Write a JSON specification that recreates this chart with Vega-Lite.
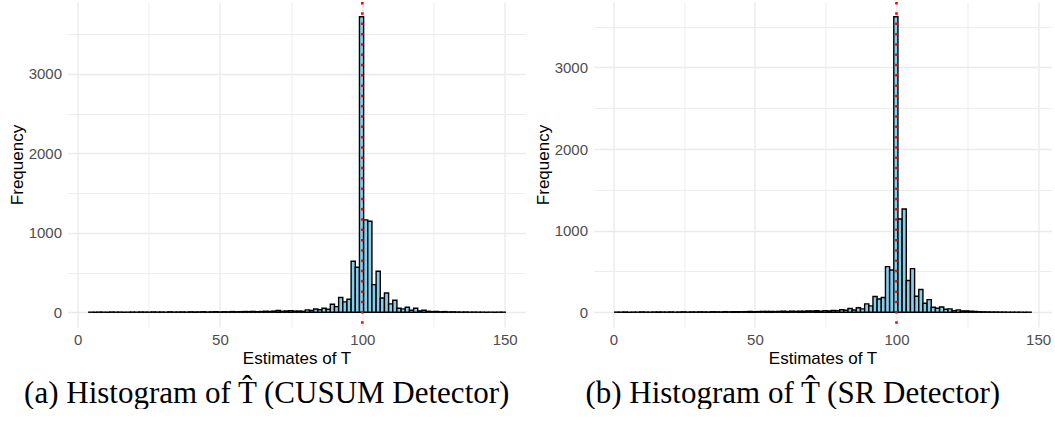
{
  "$schema": "https://vega.github.io/schema/vega-lite/v6.json",
  "background": "white",
  "padding": {"left": 7.5, "top": 0, "right": 0, "bottom": 0},
  "bounds": "flush",
  "spacing": 68,
  "config": {
    "view": {"stroke": null},
    "font": "Liberation Sans",
    "axis": {
      "grid": true,
      "gridColor": "#EBEBEB",
      "ticks": false,
      "tickSize": 0,
      "domain": false,
      "labelFontSize": 15,
      "labelColor": "#4D4D4D",
      "labelFlush": false,
      "labelOverlap": false,
      "titleFontSize": 17,
      "titleColor": "black",
      "titleFontWeight": "normal"
    }
  },
  "datasets": {
    "cusum": [
      {"t": 4.5, "n": 1}, {"t": 6.0, "n": 0}, {"t": 7.4, "n": 2}, {"t": 8.9, "n": 1}, {"t": 10.3, "n": 0},
      {"t": 11.8, "n": 3}, {"t": 13.3, "n": 1}, {"t": 14.7, "n": 2}, {"t": 16.2, "n": 0}, {"t": 17.7, "n": 1},
      {"t": 19.1, "n": 2}, {"t": 20.6, "n": 1}, {"t": 22.0, "n": 3}, {"t": 23.5, "n": 2}, {"t": 25.0, "n": 1},
      {"t": 26.4, "n": 4}, {"t": 27.9, "n": 2}, {"t": 29.4, "n": 3}, {"t": 30.8, "n": 1}, {"t": 32.3, "n": 5},
      {"t": 33.7, "n": 2}, {"t": 35.2, "n": 3}, {"t": 36.7, "n": 4}, {"t": 38.1, "n": 2}, {"t": 39.6, "n": 5},
      {"t": 41.1, "n": 3}, {"t": 42.5, "n": 4}, {"t": 44.0, "n": 6}, {"t": 45.4, "n": 3}, {"t": 46.9, "n": 5},
      {"t": 48.4, "n": 7}, {"t": 49.8, "n": 4}, {"t": 51.3, "n": 6}, {"t": 52.8, "n": 5}, {"t": 54.2, "n": 8},
      {"t": 55.7, "n": 6}, {"t": 57.1, "n": 7}, {"t": 58.6, "n": 9}, {"t": 60.1, "n": 8}, {"t": 61.5, "n": 10},
      {"t": 63.0, "n": 7}, {"t": 64.5, "n": 9}, {"t": 65.9, "n": 12}, {"t": 67.4, "n": 10}, {"t": 68.8, "n": 14},
      {"t": 70.3, "n": 21}, {"t": 71.8, "n": 12}, {"t": 73.2, "n": 16}, {"t": 74.7, "n": 20}, {"t": 76.2, "n": 14},
      {"t": 77.6, "n": 15}, {"t": 79.1, "n": 12}, {"t": 80.5, "n": 30}, {"t": 82.0, "n": 22}, {"t": 83.5, "n": 40},
      {"t": 84.9, "n": 32}, {"t": 86.4, "n": 50}, {"t": 87.8, "n": 38}, {"t": 89.3, "n": 100}, {"t": 90.8, "n": 71},
      {"t": 92.2, "n": 185}, {"t": 93.7, "n": 130}, {"t": 95.2, "n": 164}, {"t": 96.6, "n": 642}, {"t": 98.1, "n": 567},
      {"t": 99.5, "n": 3720}, {"t": 101.0, "n": 1163}, {"t": 102.5, "n": 1146}, {"t": 103.9, "n": 348}, {"t": 105.4, "n": 516},
      {"t": 106.9, "n": 180}, {"t": 108.3, "n": 243}, {"t": 109.8, "n": 105}, {"t": 111.2, "n": 151}, {"t": 112.7, "n": 50},
      {"t": 114.2, "n": 42}, {"t": 115.6, "n": 63}, {"t": 117.1, "n": 25}, {"t": 118.6, "n": 50}, {"t": 120.0, "n": 17},
      {"t": 121.5, "n": 25}, {"t": 122.9, "n": 12}, {"t": 124.4, "n": 8}, {"t": 125.9, "n": 10}, {"t": 127.3, "n": 6},
      {"t": 128.8, "n": 8}, {"t": 130.3, "n": 4}, {"t": 131.7, "n": 5}, {"t": 133.2, "n": 3}, {"t": 134.6, "n": 2},
      {"t": 136.1, "n": 3}, {"t": 137.6, "n": 1}, {"t": 139.0, "n": 2}, {"t": 140.5, "n": 1}, {"t": 142.0, "n": 1},
      {"t": 143.4, "n": 0}, {"t": 144.9, "n": 1}, {"t": 146.3, "n": 0}, {"t": 147.8, "n": 1}, {"t": 149.3, "n": 1}
    ],
    "sr": [
      {"t": 1.1, "n": 2}, {"t": 2.6, "n": 1}, {"t": 4.0, "n": 3}, {"t": 5.5, "n": 0}, {"t": 7.0, "n": 2},
      {"t": 8.4, "n": 1}, {"t": 9.9, "n": 4}, {"t": 11.4, "n": 2}, {"t": 12.9, "n": 1}, {"t": 14.3, "n": 3},
      {"t": 15.8, "n": 2}, {"t": 17.3, "n": 3}, {"t": 18.7, "n": 2}, {"t": 20.2, "n": 4}, {"t": 21.7, "n": 1},
      {"t": 23.1, "n": 3}, {"t": 24.6, "n": 5}, {"t": 26.1, "n": 2}, {"t": 27.6, "n": 4}, {"t": 29.0, "n": 3},
      {"t": 30.5, "n": 5}, {"t": 32.0, "n": 4}, {"t": 33.4, "n": 3}, {"t": 34.9, "n": 6}, {"t": 36.4, "n": 5},
      {"t": 37.8, "n": 4}, {"t": 39.3, "n": 7}, {"t": 40.8, "n": 5}, {"t": 42.3, "n": 6}, {"t": 43.7, "n": 8},
      {"t": 45.2, "n": 6}, {"t": 46.7, "n": 7}, {"t": 48.1, "n": 9}, {"t": 49.6, "n": 6}, {"t": 51.1, "n": 8},
      {"t": 52.5, "n": 10}, {"t": 54.0, "n": 9}, {"t": 55.5, "n": 11}, {"t": 57.0, "n": 8}, {"t": 58.4, "n": 10},
      {"t": 59.9, "n": 12}, {"t": 61.4, "n": 10}, {"t": 62.8, "n": 13}, {"t": 64.3, "n": 11}, {"t": 65.8, "n": 14},
      {"t": 67.3, "n": 12}, {"t": 68.7, "n": 16}, {"t": 70.2, "n": 15}, {"t": 71.7, "n": 18}, {"t": 73.1, "n": 14},
      {"t": 74.6, "n": 20}, {"t": 76.1, "n": 16}, {"t": 77.5, "n": 22}, {"t": 79.0, "n": 20}, {"t": 80.5, "n": 30},
      {"t": 82.0, "n": 25}, {"t": 83.4, "n": 45}, {"t": 84.9, "n": 28}, {"t": 86.4, "n": 55}, {"t": 87.8, "n": 41},
      {"t": 89.3, "n": 102}, {"t": 90.8, "n": 78}, {"t": 92.3, "n": 192}, {"t": 93.7, "n": 163}, {"t": 95.2, "n": 180},
      {"t": 96.7, "n": 559}, {"t": 98.1, "n": 518}, {"t": 99.6, "n": 3621}, {"t": 101.1, "n": 1143}, {"t": 102.5, "n": 1265},
      {"t": 104.0, "n": 388}, {"t": 105.5, "n": 535}, {"t": 107.0, "n": 196}, {"t": 108.4, "n": 278}, {"t": 109.9, "n": 110},
      {"t": 111.4, "n": 155}, {"t": 112.8, "n": 61}, {"t": 114.3, "n": 49}, {"t": 115.8, "n": 65}, {"t": 117.3, "n": 37},
      {"t": 118.7, "n": 41}, {"t": 120.2, "n": 20}, {"t": 121.7, "n": 29}, {"t": 123.1, "n": 16}, {"t": 124.6, "n": 16},
      {"t": 126.1, "n": 12}, {"t": 127.5, "n": 10}, {"t": 129.0, "n": 6}, {"t": 130.5, "n": 5}, {"t": 132.0, "n": 4},
      {"t": 133.4, "n": 3}, {"t": 134.9, "n": 3}, {"t": 136.4, "n": 2}, {"t": 137.8, "n": 2}, {"t": 139.3, "n": 1},
      {"t": 140.8, "n": 1}, {"t": 142.3, "n": 1}, {"t": 143.7, "n": 1}, {"t": 145.2, "n": 0}, {"t": 146.7, "n": 1}
    ],
    "truth": [{"t": 100}]
  },
  "hconcat": [
    {
      "width": 458,
      "height": 325,
      "title": {"text": "(a) Histogram of T\u0302 (CUSUM Detector)", "orient": "bottom", "anchor": "middle", "frame": "bounds", "font": "Liberation Serif", "fontSize": 31, "fontWeight": "normal", "color": "black", "offset": 13},
      "layer": [
        {
          "data": {"name": "cusum"},
          "mark": {"type": "bar", "fill": "#87CEEB", "stroke": "black", "strokeWidth": 1.4, "binSpacing": 0},
          "encoding": {
            "x": {
              "field": "t", "type": "quantitative",
              "bin": {"extent": [3.76, 150], "step": 1.4624, "nice": false},
              "scale": {"domain": [-3.55, 157.31], "nice": false},
              "title": "Estimates of T",
              "axis": {
                "values": [0, 25, 50, 75, 100, 125, 150],
                "labelExpr": "datum.value % 50 === 0 ? datum.label : ''",
                "gridWidth": {"condition": {"test": "datum.value % 50 === 0", "value": 1.4}, "value": 0.9},
                "labelPadding": 5,
                "titleY": 31,
                "titleBaseline": "middle"
              }
            },
            "y": {
              "aggregate": "sum", "field": "n", "type": "quantitative",
              "scale": {"domain": [-186, 3906], "nice": false},
              "title": "Frequency",
              "axis": {
                "values": [0, 500, 1000, 1500, 2000, 2500, 3000, 3500],
                "labelExpr": "datum.value % 1000 === 0 ? datum.label : ''",
                "format": "d",
                "gridWidth": {"condition": {"test": "datum.value % 1000 === 0", "value": 1.4}, "value": 0.9},
                "labelPadding": 6,
                "titleX": -50.5,
                "titleBaseline": "middle"
              }
            }
          }
        },
        {
          "data": {"name": "truth"},
          "mark": {"type": "rule", "color": "#FF0000", "strokeWidth": 2.6, "strokeDash": [2.5, 7.8]},
          "encoding": {"x": {"field": "t", "type": "quantitative"}}
        }
      ]
    },
    {
      "width": 458,
      "height": 325,
      "title": {"text": "(b) Histogram of T\u0302 (SR Detector)", "orient": "bottom", "anchor": "middle", "frame": "bounds", "font": "Liberation Serif", "fontSize": 31, "fontWeight": "normal", "color": "black", "offset": 13},
      "layer": [
        {
          "data": {"name": "sr"},
          "mark": {"type": "bar", "fill": "#87CEEB", "stroke": "black", "strokeWidth": 1.4, "binSpacing": 0},
          "encoding": {
            "x": {
              "field": "t", "type": "quantitative",
              "bin": {"extent": [0.35, 147.4], "step": 1.4705, "nice": false},
              "scale": {"domain": [-7.0, 154.75], "nice": false},
              "title": "Estimates of T",
              "axis": {
                "values": [0, 25, 50, 75, 100, 125, 150],
                "labelExpr": "datum.value % 50 === 0 ? datum.label : ''",
                "gridWidth": {"condition": {"test": "datum.value % 50 === 0", "value": 1.4}, "value": 0.9},
                "labelPadding": 5,
                "titleY": 31,
                "titleBaseline": "middle"
              }
            },
            "y": {
              "aggregate": "sum", "field": "n", "type": "quantitative",
              "scale": {"domain": [-181, 3802], "nice": false},
              "title": "Frequency",
              "axis": {
                "values": [0, 500, 1000, 1500, 2000, 2500, 3000, 3500],
                "labelExpr": "datum.value % 1000 === 0 ? datum.label : ''",
                "format": "d",
                "gridWidth": {"condition": {"test": "datum.value % 1000 === 0", "value": 1.4}, "value": 0.9},
                "labelPadding": 6,
                "titleX": -50.5,
                "titleBaseline": "middle"
              }
            }
          }
        },
        {
          "data": {"name": "truth"},
          "mark": {"type": "rule", "color": "#FF0000", "strokeWidth": 2.6, "strokeDash": [2.5, 7.8]},
          "encoding": {"x": {"field": "t", "type": "quantitative"}}
        }
      ]
    }
  ]
}
